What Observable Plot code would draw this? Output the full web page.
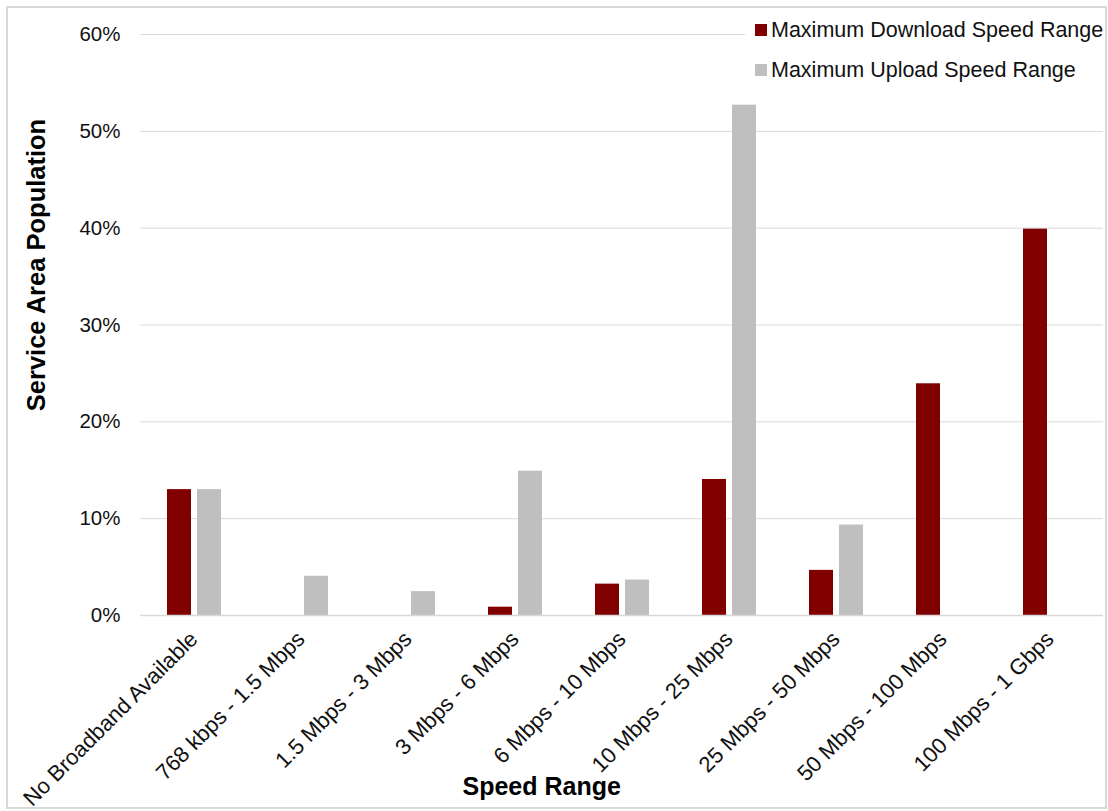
<!DOCTYPE html>
<html>
<head>
<meta charset="utf-8">
<script src="https://cdn.jsdelivr.net/npm/d3@7"></script>
<script src="https://cdn.jsdelivr.net/npm/@observablehq/plot@0.6"></script>
<style>
  body { margin: 0; background: #fff; font-family: "Liberation Sans", Arial, sans-serif; }
  #chart { position: relative; width: 1108px; height: 811px; overflow: hidden; background: #fff; }
  #chart svg { position: absolute; left: 0; top: 0; }
  #frame { position: absolute; left: 6px; top: 6px; width: 1097px; height: 799px; border: 2px solid #d9d9d9; pointer-events: none; }
  #legend { position: absolute; left: 745px; top: 10px; width: 359px; padding-left: 10px; box-sizing: border-box; background: #fff; }
  #legend .item { display: flex; align-items: center; height: 40px; font-size: 21.5px; color: #111; white-space: nowrap; }
  #legend .sw { width: 12px; height: 12px; margin-right: 4px; flex: none; }
  .axis-title { position: absolute; font-weight: bold; font-size: 25.5px; line-height: 25px; color: #000; white-space: nowrap; }
  #ytitle { left: 35.7px; top: 265px; transform: translate(-50%, -50%) rotate(-90deg); }
  #xtitle { left: 541.7px; top: 786.4px; transform: translate(-50%, -50%); font-size: 25px; }
</style>
</head>
<body>
<div id="chart">
  <div id="legend"></div>
  <div id="ytitle" class="axis-title">Service Area Population</div>
  <div id="xtitle" class="axis-title">Speed Range</div>
  <div id="frame"></div>
</div>
<script>
// Speed tiers along the horizontal axis
const speedRanges = [
  "No Broadband Available",
  "768 kbps - 1.5 Mbps",
  "1.5 Mbps - 3 Mbps",
  "3 Mbps - 6 Mbps",
  "6 Mbps - 10 Mbps",
  "10 Mbps - 25 Mbps",
  "25 Mbps - 50 Mbps",
  "50 Mbps - 100 Mbps",
  "100 Mbps - 1 Gbps"
];

// Share of service area population (%) in each tier
const downloadShare = [13.0, 0, 0, 0.86, 3.24, 14.05, 4.66, 23.93, 39.9];
const uploadShare = [13.0, 4.05, 2.47, 14.9, 3.66, 52.7, 9.34, 0, 0];

const seriesNames = ["Maximum Download Speed Range", "Maximum Upload Speed Range"];
const seriesColors = ["#800000", "#bfbfbf"];

const yTicks = [0, 10, 20, 30, 40, 50, 60];

// Long table: one row per tier and series
const rows = speedRanges.flatMap((range, i) => [
  {range, series: seriesNames[0], value: downloadShare[i]},
  {range, series: seriesNames[1], value: uploadShare[i]}
]);

const chart = Plot.plot({
  width: 1108,
  height: 811,
  marginLeft: 138,
  marginRight: 4,
  marginTop: 34,
  marginBottom: 196,
  style: {
    fontFamily: '"Liberation Sans", Arial, sans-serif',
    fontSize: "20px",
    color: "#111",
    background: "transparent",
    overflow: "visible"
  },
  fx: {domain: speedRanges, padding: 0, label: null},
  x: {domain: seriesNames, paddingInner: 0.2, paddingOuter: 0.835, axis: null},
  y: {domain: [0, 60], label: null},
  color: {domain: seriesNames, range: seriesColors},
  marks: [
    Plot.gridY(yTicks, {stroke: "#d9d9d9", strokeOpacity: 1, strokeWidth: 1}),
    Plot.axisY(yTicks, {tickSize: 0, tickPadding: 20, tickFormat: d => d + "%", label: null, fontSize: 20.5}),
    Plot.axisFx({anchor: "bottom", tickRotate: -45, tickSize: 0, tickPadding: 20, label: null, fontSize: 22}),
    Plot.barY(rows, {fx: "range", x: "series", y: "value", fill: "series"}),
    Plot.ruleY([0], {stroke: "#d9d9d9", strokeWidth: 1.5})
  ]
});

document.getElementById("chart").prepend(chart);

// Legend entries built from the series arrays
const legend = document.getElementById("legend");
seriesNames.forEach((name, i) => {
  const item = document.createElement("div");
  item.className = "item";
  const sw = document.createElement("span");
  sw.className = "sw";
  sw.style.background = seriesColors[i];
  item.appendChild(sw);
  item.appendChild(document.createTextNode(name));
  legend.appendChild(item);
});
</script>
</body>
</html>
